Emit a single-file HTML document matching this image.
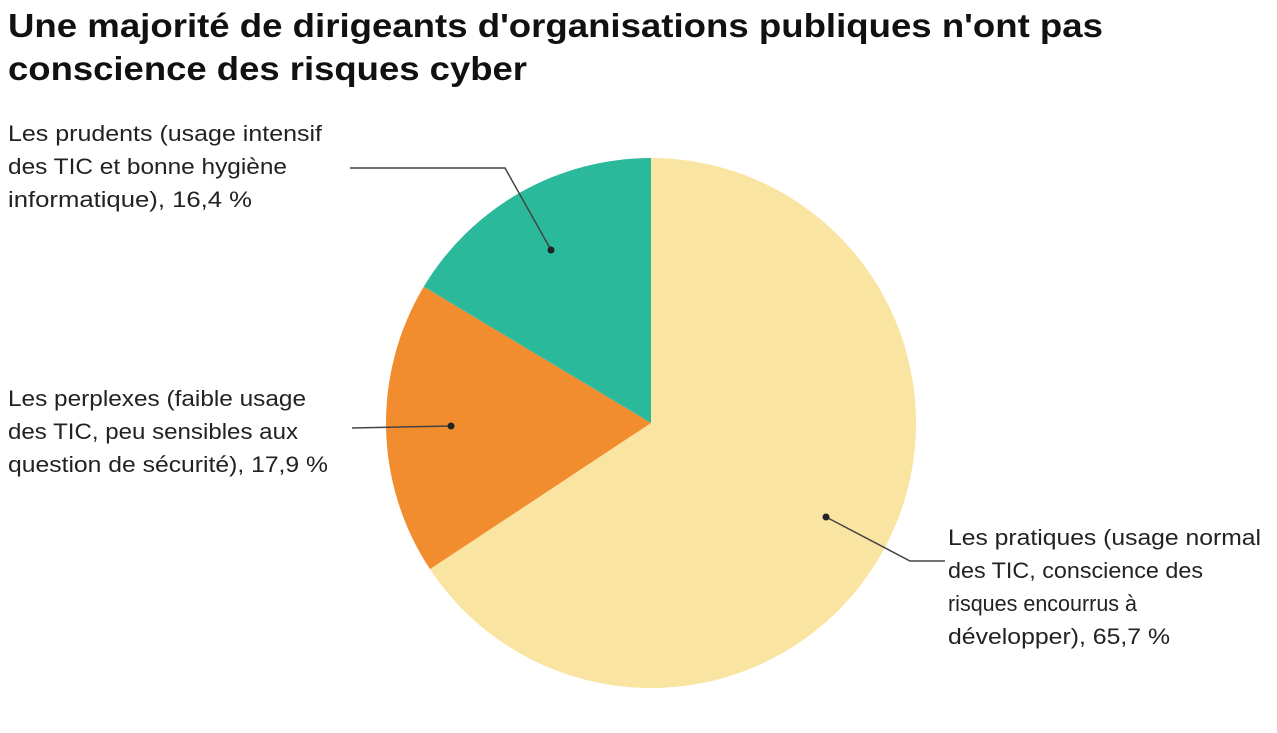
<!DOCTYPE html>
<html><head><meta charset="utf-8"><style>
body{margin:0;background:#fff;}
svg{display:block;font-family:"Liberation Sans",sans-serif;}
</style></head><body>
<svg width="1277" height="733" viewBox="0 0 1277 733">
<text x="8" y="37" font-size="33" font-weight="bold" fill="#111" textLength="1095" lengthAdjust="spacingAndGlyphs">Une majorité de dirigeants d'organisations publiques n'ont pas</text>
<text x="8" y="80" font-size="33" font-weight="bold" fill="#111" textLength="519" lengthAdjust="spacingAndGlyphs">conscience des risques cyber</text>
<g id="pie"></g>
<g id="labels"></g>
</svg>
<script>
const categories=["pratiques","perplexes","prudents"];
const values=[65.7,17.9,16.4];
const colors=["#FAE4A2","#F28D2F","#2BB99B"];
const cx=651,cy=423,r=265,ns="http://www.w3.org/2000/svg";
const total=values.reduce((a,b)=>a+b,0);
const pie=document.getElementById('pie');
function pt(a,rr){return [cx+rr*Math.sin(a),cy-rr*Math.cos(a)];}
let a0=0;
values.forEach((v,i)=>{
  const a1=a0+v/total*2*Math.PI;
  const p0=pt(a0,r),p1=pt(a1,r);
  const path=document.createElementNS(ns,'path');
  path.setAttribute('d',`M${cx},${cy}L${p0[0]},${p0[1]}A${r},${r} 0 ${a1-a0>Math.PI?1:0} 1 ${p1[0]},${p1[1]}Z`);
  path.setAttribute('fill',colors[i]);
  
  
  pie.appendChild(path);
  a0=a1;
});
const L=document.getElementById('labels');
function line(pts,name){
  const p=document.createElementNS(ns,'polyline');
  p.setAttribute('points',pts.map(q=>q.join(',')).join(' '));
  p.setAttribute('fill','none');p.setAttribute('stroke','#444');p.setAttribute('stroke-width','1.5');
  
  
  L.appendChild(p);
  const d=pts[0];
  const c=document.createElementNS(ns,'circle');
  c.setAttribute('cx',d[0]);c.setAttribute('cy',d[1]);c.setAttribute('r','3.5');c.setAttribute('fill','#222');
  
  
  L.appendChild(c);
}
function label(x,y0,lines,widths,name){
  lines.forEach((s,i)=>{
    const t=document.createElementNS(ns,'text');
    t.setAttribute('x',x);t.setAttribute('y',y0+i*33);
    t.setAttribute('font-size','22');t.setAttribute('fill','#222');
    t.setAttribute('textLength',widths[i]);t.setAttribute('lengthAdjust','spacingAndGlyphs');
    t.textContent=s;
    
    
    L.appendChild(t);
  });
}
line([[551,250],[505,168],[350,168]],'leader-prudents');
line([[451,426],[352,428]],'leader-perplexes');
line([[826,517],[910,561],[945,561]],'leader-pratiques');
label(8,141,["Les prudents (usage intensif","des TIC et bonne hygiène","informatique), 16,4 %"],[314,279,244],'label-prudents');
label(8,406,["Les perplexes (faible usage","des TIC, peu sensibles aux","question de sécurité), 17,9 %"],[298,290,320],'label-perplexes');
label(948,545,["Les pratiques (usage normal","des TIC, conscience des","risques encourrus à","développer), 65,7 %"],[313,255,189,222],'label-pratiques');
</script>
</body></html>
